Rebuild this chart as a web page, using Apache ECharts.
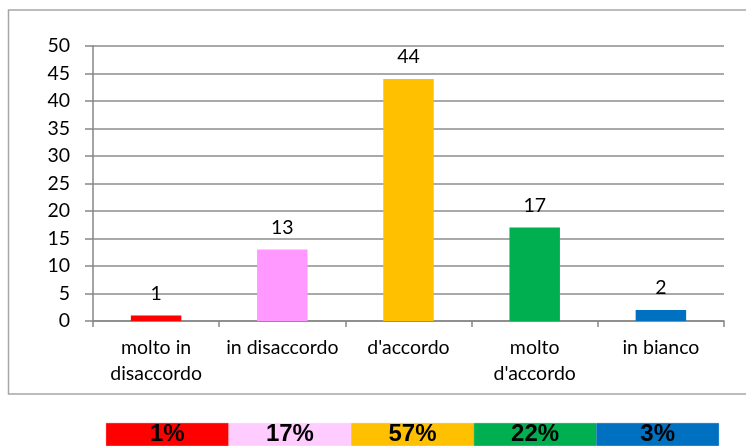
<!DOCTYPE html>
<html>
<head>
<meta charset="utf-8">
<script src="https://cdn.jsdelivr.net/npm/echarts@6/dist/echarts.min.js"></script>
<style>
html,body{margin:0;padding:0;background:#fff;}
#chart{width:746px;height:446px;}
</style>
</head>
<body>
<div id="chart"></div>
<script>
// ---- data ----
var categories = ['molto in\ndisaccordo', 'in disaccordo', "d'accordo", "molto\nd'accordo", 'in bianco'];
var values = [1, 13, 44, 17, 2];
var barColors = ['#FF0000', '#FF99FF', '#FFC000', '#00B050', '#0070C0'];
var percentLabels = ['1%', '17%', '57%', '22%', '3%'];
var stripColors = ['#FF0000', '#FFCCFF', '#FFC000', '#00B050', '#0070C0'];
var yTicks = { min: 0, max: 50, interval: 5 };

var FONT = 'Lato';
var chart = echarts.init(document.getElementById('chart'), null, { renderer: 'canvas' });

var option = {
  backgroundColor: '#fff',
  animation: false,
  graphic: [{
    type: 'rect',
    shape: { x: 8.5, y: 10, width: 760, height: 384 },
    style: { fill: 'none', stroke: '#a6a6a6', lineWidth: 1.5 },
    z: 0
  }],
  grid: [
    { left: 93, right: 22, top: 46, bottom: 125, containLabel: false },
    { left: 106, width: 613, top: 423, height: 32, containLabel: false }
  ],
  xAxis: [{
    type: 'category',
    gridIndex: 0,
    data: categories,
    axisLine: { show: true, lineStyle: { color: '#868686', width: 1.5 } },
    axisTick: { show: true, length: 6, alignWithLabel: false, lineStyle: { color: '#868686', width: 1.5 } },
    axisLabel: {
      interval: 0, margin: 14, color: '#000', fontFamily: FONT, fontSize: 19.5, lineHeight: 26
    },
    splitLine: { show: false }
  }, {
    type: 'category',
    gridIndex: 1,
    data: percentLabels,
    show: false
  }],
  yAxis: [{
    type: 'value',
    gridIndex: 0,
    min: yTicks.min, max: yTicks.max, interval: yTicks.interval,
    axisLine: { show: true, lineStyle: { color: '#868686', width: 1.5 } },
    axisTick: { show: true, length: 8, lineStyle: { color: '#868686', width: 1.5 } },
    axisLabel: { margin: 23, color: '#000', fontFamily: FONT, fontSize: 19.5 },
    splitLine: { show: true, lineStyle: { color: '#8c8c8c', width: 1.5 } }
  }, {
    type: 'value',
    gridIndex: 1,
    min: 0, max: 1,
    show: false
  }],
  series: [{
    type: 'bar',
    xAxisIndex: 0, yAxisIndex: 0,
    barWidth: '40%',
    data: values.map(function (v, i) {
      return { value: v, itemStyle: { color: barColors[i] } };
    }),
    label: {
      show: true, position: 'top', distance: 12,
      color: '#000', fontFamily: FONT, fontSize: 19.5, lineHeight: 20
    },
    z: 3
  }, {
    type: 'bar',
    xAxisIndex: 1, yAxisIndex: 1,
    barWidth: '100%',
    data: percentLabels.map(function (p, i) {
      return { value: 1, itemStyle: { color: stripColors[i], borderColor: stripColors[i], borderWidth: 0.8 } };
    }),
    label: {
      show: true, position: 'inside',
      formatter: function (p) { return percentLabels[p.dataIndex]; },
      color: '#000', fontFamily: 'Liberation Sans', fontWeight: 'bold', fontSize: 24
    },
    silent: true
  }]
};
chart.setOption(option);
</script>
</body>
</html>
